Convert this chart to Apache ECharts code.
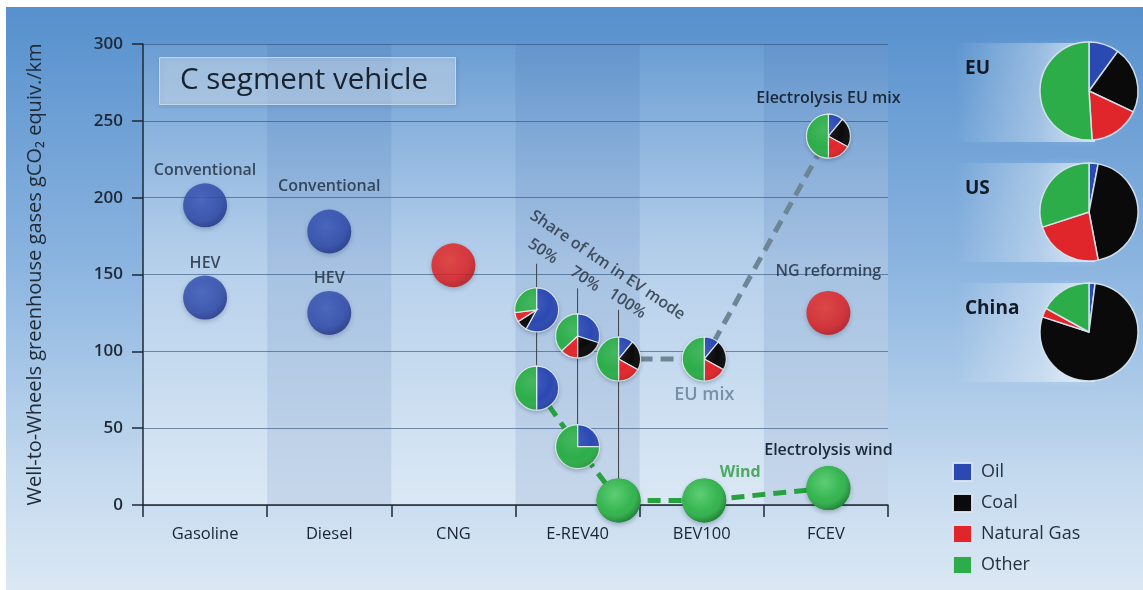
<!DOCTYPE html>
<html>
<head>
<meta charset="utf-8">
<title>Well-to-Wheels greenhouse gases, C segment vehicle</title>
<script src="https://cdn.jsdelivr.net/npm/echarts@6.0.0/dist/echarts.min.js"></script>
<style>
  html, body { margin: 0; padding: 0; background: #ffffff; }
  #chart { width: 1143px; height: 590px; }
</style>
</head>
<body>
<div id="chart"></div>
<script>
// ---------- data ----------
const categories = ['Gasoline', 'Diesel', 'CNG', 'E-REV40', 'BEV100', 'FCEV'];
const yTicks = [0, 50, 100, 150, 200, 250, 300];
const sources = ['Oil', 'Coal', 'Natural Gas', 'Other'];

// single-fuel vehicles (x in category units, 0 = left edge of first column)
const fuelX     = [0.5, 0.5, 1.5, 1.5, 2.5, 5.52];
const fuelCO2   = [195, 135, 178, 125, 156, 125];
const fuelType  = ['oil', 'oil', 'oil', 'oil', 'gas', 'gas'];
const fuelNames = ['Conventional', 'HEV', 'Conventional', 'HEV', '', 'NG reforming'];

// electrified vehicles with their primary energy mix (%)
const mixX     = [3.17, 3.5, 3.83, 4.52, 5.52, 3.17, 3.5, 3.83, 4.52, 5.52];
const mixCO2   = [127, 110, 95, 95, 240, 76, 38, 3, 3, 11];
const mixOil   = [58, 30, 11, 11, 11, 50, 25, 0, 0, 0];
const mixCoal  = [8, 20, 22, 22, 22, 0, 0, 0, 0, 0];
const mixGas   = [7, 13, 17, 17, 17, 0, 0, 0, 0, 0];
const mixOther = [27, 37, 50, 50, 50, 50, 75, 100, 100, 100];
const mixNames = ['', '', '', 'EU mix', 'Electrolysis EU mix', '', '', '', '', 'Electrolysis wind'];

// connecting paths (indices into the mix arrays)
const euMixPath = [2, 3, 4];
const windPath  = [5, 6, 7, 8, 9];

// share of km driven in EV mode, E-REV40
const evShares   = ['50%', '70%', '100%'];
const evUpperIdx = [0, 1, 2];
const evLowerIdx = [5, 6, 7];
const evGuideTop = [157, 141, 127];

// electricity generation mix by region (%): Oil, Coal, Natural Gas, Other
const regions  = ['EU', 'US', 'China'];
const euMix    = [10, 22, 17, 51];
const usMix    = [3, 44, 23, 30];
const chinaMix = [2, 78, 3, 17];

// ---------- styling ----------
const FONT = "'Open Sans', 'DejaVu Sans', sans-serif";
const INK = '#1b2838';
const sourceColors = ['#2b49b2', '#0a0a0a', '#e1262b', '#2cad4a'];
const R = 22;

function ballFill(kind) {
  const p = {
    oil:   ['#3d5bbf', '#2b46a8', '#1a2c80'],
    gas:   ['#f23328', '#e31a1c', '#b40f10'],
    other: ['#48c661', '#33b24e', '#1f8c36']
  }[kind];
  return new echarts.graphic.RadialGradient(0.42, 0.38, 0.66, [
    { offset: 0, color: p[0] }, { offset: 0.7, color: p[1] }, { offset: 1, color: p[2] }
  ]);
}

// text placement for point labels
const labelPlace = {
  'Conventional': ['top', 5], 'HEV': ['top', 4], 'NG reforming': ['top', 11],
  'EU mix': ['bottom', 5], 'Electrolysis EU mix': ['top', 8], 'Electrolysis wind': ['top', 8]
};
const labelFont = '600 16px ' + FONT;

const fuelData = fuelX.map((x, i) => {
  const name = fuelNames[i];
  const place = labelPlace[name] || ['top', 6];
  const dist = (i === 2) ? 15 : place[1];
  return {
    value: [x, fuelCO2[i]],
    itemStyle: { color: ballFill(fuelType[i]) },
    label: { show: !!name, formatter: name, position: place[0], distance: dist }
  };
});

const mixData = mixX.map((x, i) => [x, mixCO2[i], mixOil[i], mixCoal[i], mixGas[i], mixOther[i], i]);

function renderMixPie(params, api) {
  const c = api.coord([api.value(0), api.value(1)]);
  const shares = [api.value(2), api.value(3), api.value(4), api.value(5)];
  const idx = api.value(6);
  const total = shares.reduce((a, b) => a + b, 0);
  const children = [{
    type: 'circle', shape: { cx: c[0], cy: c[1], r: R },
    style: { fill: '#2cad4a', shadowBlur: 5, shadowOffsetY: 2, shadowColor: 'rgba(10,30,60,0.3)' }
  }];
  let a = -Math.PI / 2;
  shares.forEach((s, k) => {
    if (s <= 0) return;
    const e = a + s / total * Math.PI * 2;
    children.push({
      type: 'sector',
      shape: { cx: c[0], cy: c[1], r0: 0, r: R, startAngle: a, endAngle: e, clockwise: true },
      style: {
        fill: (s === total) ? ballFill('other') : sourceColors[k],
        stroke: 'rgba(230,238,246,0.9)', lineWidth: (s === total) ? 0 : 1.2
      }
    });
    a = e;
  });
  children.push({
    type: 'circle', shape: { cx: c[0], cy: c[1], r: R }, silent: true,
    style: {
      fill: new echarts.graphic.RadialGradient(0.4, 0.35, 0.7, [
        { offset: 0, color: 'rgba(255,255,255,0.12)' },
        { offset: 0.6, color: 'rgba(255,255,255,0)' },
        { offset: 1, color: 'rgba(0,0,0,0.14)' }
      ])
    }
  });
  const name = mixNames[idx];
  if (name) {
    const place = labelPlace[name];
    const top = place[0] === 'top';
    const isGray = name === 'EU mix';
    children.push({
      type: 'text',
      style: {
        text: name, x: c[0], y: top ? c[1] - R - place[1] : c[1] + R + place[1],
        align: 'center', verticalAlign: top ? 'bottom' : 'top',
        fill: isGray ? '#7890a3' : INK,
        font: isGray ? '600 18px ' + FONT : labelFont
      }
    });
  }
  return { type: 'group', children };
}

function pathSeries(idxList, color) {
  return {
    type: 'line', xAxisIndex: 1, yAxisIndex: 0, z: 1, silent: true,
    symbol: 'none', animation: false,
    data: idxList.map(i => [mixX[i], mixCO2[i]]),
    lineStyle: { color, width: 5, type: [13, 8], cap: 'butt' }
  };
}

const guideSeries = evShares.map((s, k) => ({
  type: 'line', xAxisIndex: 1, yAxisIndex: 0, z: 1, silent: true, symbol: 'none', animation: false,
  data: [[mixX[evUpperIdx[k]], evGuideTop[k]], [mixX[evLowerIdx[k]], mixCO2[evLowerIdx[k]]]],
  lineStyle: { color: '#3b4148', width: 1 }
}));

// free-standing annotations, anchored in data units
const notes = [
  { text: 'Share of km in EV mode', at: [3.74, 156], rotate: -34, color: '#26303c', weight: 600, size: 16 },
  { text: evShares[0], at: [3.22, 165], rotate: -34, color: '#26303c', weight: 600, size: 16 },
  { text: evShares[1], at: [3.56, 147], rotate: -34, color: '#26303c', weight: 600, size: 16 },
  { text: evShares[2], at: [3.90, 131], rotate: -34, color: '#26303c', weight: 600, size: 16 },
  { text: 'Wind', at: [4.81, 21.5], rotate: 0, color: '#2a9a3e', weight: 700, size: 16 }
];

const regionPie = (mix, center) => ({
  type: 'pie', center, radius: 49, startAngle: 90, clockwise: true, silent: true, z: 3,
  label: { show: false }, labelLine: { show: false }, animation: false,
  itemStyle: { borderColor: 'rgba(215,228,240,0.95)', borderWidth: 1.5 },
  data: mix.map((v, i) => ({ name: sources[i], value: v, itemStyle: { color: sourceColors[i] } }))
});

function regionBand(y) {
  return {
    type: 'rect', z: -9, silent: true,
    shape: { x: 955, y, width: 140, height: 99 },
    style: {
      fill: new echarts.graphic.LinearGradient(0, 0, 1, 0, [
        { offset: 0, color: 'rgba(255,255,255,0)' },
        { offset: 0.6, color: 'rgba(255,255,255,0.3)' },
        { offset: 1, color: 'rgba(255,255,255,0.65)' }
      ]),
      shadowBlur: 6, shadowColor: 'rgba(255,255,255,0.25)'
    }
  };
}

const regionTitle = (text, top) => ({
  text, left: 965, top, padding: 0,
  textStyle: { fontFamily: FONT, fontSize: 19, fontWeight: 'bold', color: '#121b26' }
});

const chart = echarts.init(document.getElementById('chart'), null, { renderer: 'canvas' });
chart.setOption({
  animation: false,
  textStyle: { fontFamily: FONT },
  graphic: [
    {
      type: 'rect', z: -10, silent: true,
      shape: { x: 6, y: 7, width: 1137, height: 583 },
      style: {
        fill: new echarts.graphic.LinearGradient(0, 0, 0, 1, [
          { offset: 0, color: '#5690cd' },
          { offset: 0.45, color: '#8cb5e0' },
          { offset: 0.8, color: '#c3d9ee' },
          { offset: 1, color: '#dbe8f4' }
        ])
      }
    },
    regionBand(43), regionBand(163), regionBand(283)
  ],
  title: [
    {
      text: 'C segment vehicle', left: 159, top: 57, padding: [9, 28, 9, 21],
      backgroundColor: 'rgba(235,243,251,0.42)', borderColor: 'rgba(200,218,236,0.95)', borderWidth: 1,
      shadowBlur: 4, shadowOffsetX: 1, shadowOffsetY: 1, shadowColor: 'rgba(30,60,100,0.25)',
      textStyle: { fontFamily: FONT, fontSize: 29.5, fontWeight: 'normal', color: '#19232f' }
    },
    regionTitle(regions[0], 59),
    regionTitle(regions[1], 179),
    regionTitle(regions[2], 299)
  ],
  legend: {
    orient: 'vertical', left: 947, top: 457, icon: 'rect',
    itemWidth: 19, itemHeight: 18, itemGap: 11, selectedMode: false,
    data: sources,
    textStyle: { fontFamily: FONT, fontSize: 18, color: '#26313d', padding: [0, 0, 0, 4] }
  },
  grid: {
    left: 143, right: 255, top: 44, bottom: 85, show: true, borderWidth: 0,
    backgroundColor: new echarts.graphic.LinearGradient(0, 0, 0, 1, [
      { offset: 0, color: 'rgba(255,255,255,0.08)' },
      { offset: 0.5, color: 'rgba(255,255,255,0.38)' },
      { offset: 1, color: 'rgba(255,255,255,0.32)' }
    ])
  },
  xAxis: [
    {
      type: 'category', data: categories, boundaryGap: true,
      axisLine: { lineStyle: { color: '#1f2935', width: 1.5 } },
      axisTick: { show: true, length: 12, alignWithLabel: false, lineStyle: { color: '#1f2935', width: 1.5 } },
      axisLabel: { color: '#1a2430', fontSize: 16.5, fontWeight: 500, margin: 21, fontFamily: FONT, interval: 0 },
      splitLine: { show: false },
      splitArea: { show: true, areaStyle: { color: ['rgba(255,255,255,0)', 'rgba(35,85,155,0.11)'] } }
    },
    { type: 'value', min: 0, max: categories.length, show: false }
  ],
  yAxis: {
    type: 'value', min: yTicks[0], max: yTicks[yTicks.length - 1], interval: yTicks[1] - yTicks[0],
    name: 'Well-to-Wheels greenhouse gases gCO\u2082 equiv./km',
    nameLocation: 'middle', nameGap: 98,
    nameTextStyle: { fontFamily: FONT, fontSize: 20, color: '#1f2a36' },
    axisLine: { show: true, lineStyle: { color: '#1f2935', width: 1.5 } },
    axisTick: { show: true, length: 11, lineStyle: { color: '#1f2935', width: 1.5 } },
    axisLabel: { color: '#1f2935', fontSize: 17, fontWeight: 600, margin: 20, fontFamily: FONT },
    splitLine: { lineStyle: { color: 'rgba(45,80,120,0.6)', width: 1 } }
  },
  series: [
    ...guideSeries,
    pathSeries(euMixPath, '#6c8696'),
    pathSeries(windPath, '#27a240'),
    {
      type: 'scatter', xAxisIndex: 1, yAxisIndex: 0, z: 3, symbolSize: 2 * R, silent: true,
      data: fuelData,
      itemStyle: { shadowBlur: 5, shadowOffsetY: 2, shadowColor: 'rgba(10,30,60,0.3)' },
      label: { color: INK, fontSize: 16, fontWeight: 600, fontFamily: FONT }
    },
    {
      type: 'custom', xAxisIndex: 1, yAxisIndex: 0, z: 3, silent: true,
      renderItem: renderMixPie, data: mixData, encode: { x: 0, y: 1 }
    },
    {
      type: 'scatter', xAxisIndex: 1, yAxisIndex: 0, z: 4, symbolSize: 0, silent: true,
      data: notes.map(n => ({
        value: n.at,
        label: {
          show: true, formatter: n.text, position: 'inside', rotate: n.rotate,
          color: n.color, fontWeight: n.weight, fontSize: n.size, fontFamily: FONT
        }
      }))
    },
    regionPie(euMix, [1089, 91]),
    regionPie(usMix, [1089, 212]),
    regionPie(chinaMix, [1089, 332])
  ]
});
</script>
</body>
</html>
